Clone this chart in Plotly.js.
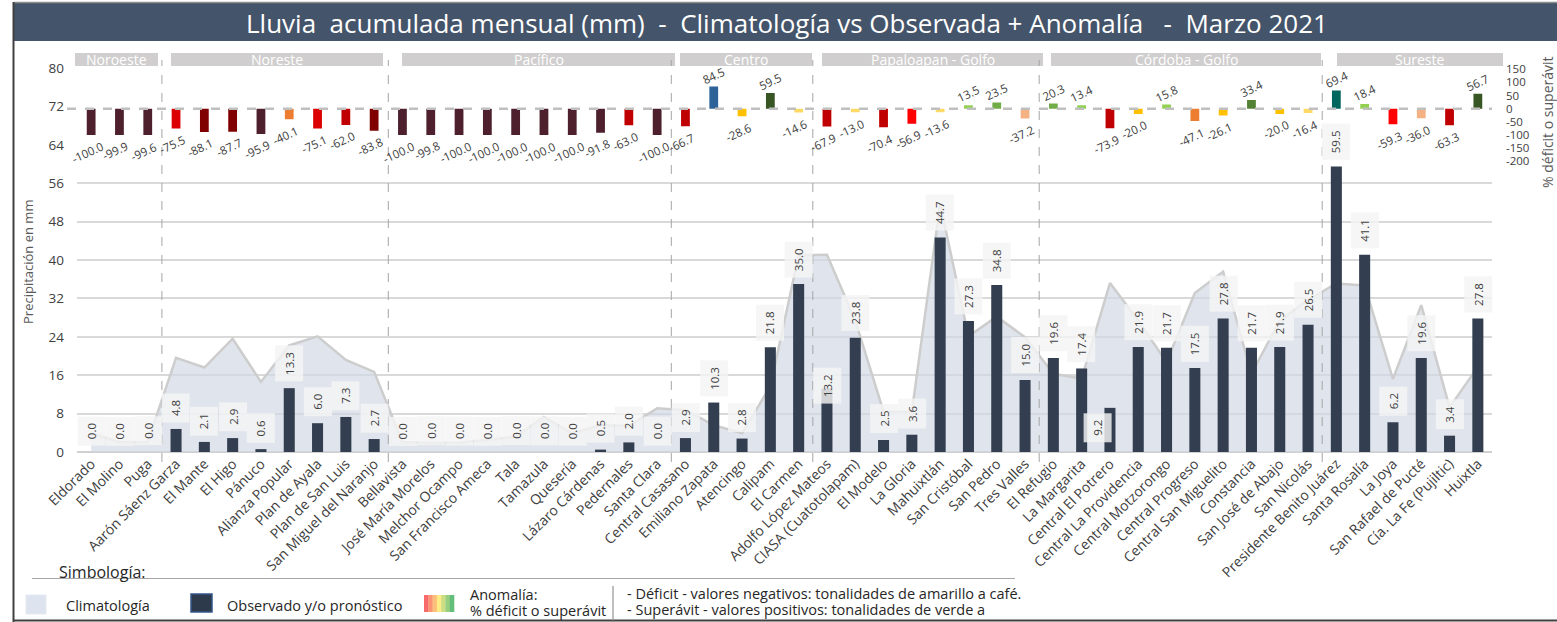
<!DOCTYPE html>
<html>
<head>
<meta charset="utf-8">
<script src="https://cdn.plot.ly/plotly-3.0.1.min.js"></script>
<style>
html,body{margin:0;padding:0;background:#fff;}
#chart{width:1557px;height:622px;}
</style>
</head>
<body>
<div id="chart"></div>
<script>
// ---------------- DATA ----------------
const regions = ['Noroeste','Noreste','Pacífico','Centro','Papaloapan - Golfo','Córdoba - Golfo','Sureste'];
const regionSizes = [3, 8, 10, 5, 8, 10, 6];

const stations = [
  'Eldorado','El Molino','Puga',
  'Aarón Sáenz Garza','El Mante','El Higo','Pánuco','Alianza Popular','Plan de Ayala','Plan de San Luis','San Miguel del Naranjo',
  'Bellavista','José María Morelos','Melchor Ocampo','San Francisco Ameca','Tala','Tamazula','Quesería','Lázaro Cárdenas','Pedernales','Santa Clara',
  'Central Casasano','Emiliano Zapata','Atencingo','Calipam','El Carmen',
  'Adolfo López Mateos','CIASA (Cuatotolapam)','El Modelo','La Gloria','Mahuixtlán','San Cristóbal','San Pedro','Tres Valles',
  'El Refugio','La Margarita','Central El Potrero','Central La Providencia','Central Motzorongo','Central Progreso','Central San Miguelito','Constancia','San José de Abajo','San Nicolás',
  'Presidente Benito Juárez','Santa Rosalía','La Joya','San Rafael de Pucté','Cía. La Fe (Pujiltic)','Huixtla'
];

const observed = [
  0.0, 0.0, 0.0,
  4.8, 2.1, 2.9, 0.6, 13.3, 6.0, 7.3, 2.7,
  0.0, 0.0, 0.0, 0.0, 0.0, 0.0, 0.0, 0.5, 2.0, 0.0,
  2.9, 10.3, 2.8, 21.8, 35.0,
  13.2, 23.8, 2.5, 3.6, 44.7, 27.3, 34.8, 15.0,
  19.6, 17.4, 9.2, 21.9, 21.7, 17.5, 27.8, 21.7, 21.9, 26.5,
  59.5, 41.1, 6.2, 19.6, 3.4, 27.8
];

const climatology = [
  3.9, 2.1, 2.1,
  19.6, 17.6, 23.6, 14.6, 22.2, 24.1, 19.2, 16.7,
  2.1, 1.9, 2.0, 2.5, 3.2, 7.3, 3.9, 5.6, 5.4, 9.1,
  8.7, 5.6, 3.9, 13.7, 41.0,
  41.1, 27.4, 8.4, 8.4, 51.7, 24.1, 28.2, 23.9,
  16.3, 15.3, 35.2, 27.4, 18.7, 33.1, 37.6, 16.3, 27.4, 31.7,
  35.1, 34.7, 15.2, 30.6, 9.3, 17.7
];

const anomaly = [
  -100.0, -99.9, -99.6,
  -75.5, -88.1, -87.7, -95.9, -40.1, -75.1, -62.0, -83.8,
  -100.0, -99.8, -100.0, -100.0, -100.0, -100.0, -100.0, -91.8, -63.0, -100.0,
  -66.7, 84.5, -28.6, 59.5, -14.6,
  -67.9, -13.0, -70.4, -56.9, -13.6, 13.5, 23.5, -37.2,
  20.3, 13.4, -73.9, -20.0, 15.8, -47.1, -26.1, 33.4, -20.0, -16.4,
  69.4, 18.4, -59.3, -36.0, -63.3, 56.7
];

const leftTicks = [0, 8, 16, 24, 32, 40, 48, 56, 64, 72, 80];
const rightTicks = [150, 100, 50, 0, -50, -100, -150, -200];

// ---------------- STYLE / LAYOUT ----------------
const L = 77, T = 68, W = 1415, H = 384;
const px = p => (p - L) / W;
const py = p => (T + H - p) / H;
const FONT = 'Open Sans, Noto Sans, sans-serif';
const TXT = '#404040';

function anomColor(v) {
  if (v <= -90) return '#4e1f2c';
  if (v <= -80) return '#800000';
  if (v <= -75) return '#dc0000';
  if (v <= -60) return '#c00000';
  if (v <= -50) return '#ff0000';
  if (v <= -40) return '#ed7d31';
  if (v <= -30) return '#f4b183';
  if (v <= -20) return '#ffc000';
  if (v < 0) return '#ffd966';
  if (v < 20) return '#92d050';
  if (v < 30) return '#70ad47';
  if (v < 50) return '#548235';
  if (v < 60) return '#375623';
  if (v < 80) return '#00665e';
  return '#2e6399';
}

// region header boxes in pixels (decoration)
const regionBoxPx = [[75,158],[171,383],[402,675],[680,812],[822,1043],[1051,1321],[1337,1503]];
// label offsets for a few crowded observed labels
const obsLabelShift = {
  'Central El Potrero': [-12, -35],
  'Adolfo López Mateos': [0, -15]
};

const traces = [
  {
    type: 'scatter', mode: 'lines', x: stations, y: climatology,
    fill: 'tozeroy', fillcolor: 'rgba(210,216,228,0.68)',
    line: {color: '#cdcdcd', width: 2.5}, yaxis: 'y', hoverinfo: 'skip', showlegend: false
  },
  {
    type: 'bar', x: stations, y: observed, width: 0.39,
    marker: {color: '#333f50'}, yaxis: 'y3', showlegend: false
  },
  {
    type: 'bar', x: stations, y: anomaly, width: 0.31,
    marker: {color: anomaly.map(anomColor)}, yaxis: 'y2', showlegend: false
  }
];

const shapes = [];
const annotations = [];

// title bar & frame
shapes.push({type:'rect', xref:'paper', yref:'paper', x0:px(14), x1:px(1557), y0:py(41), y1:py(3), fillcolor:'#44546a', line:{width:0}});
shapes.push({type:'line', xref:'paper', yref:'paper', x0:px(14), x1:px(1557), y0:py(2.5), y1:py(2.5), line:{color:'#8c8c8c', width:1.5}});
shapes.push({type:'line', xref:'paper', yref:'paper', x0:px(13.5), x1:px(13.5), y0:py(2), y1:py(622), line:{color:'#404040', width:2}});
shapes.push({type:'line', xref:'paper', yref:'paper', x0:px(13), x1:px(1557), y0:py(620.5), y1:py(620.5), line:{color:'#404040', width:2}});
annotations.push({xref:'paper', yref:'paper', x:px(787), y:py(23), text:'Lluvia\u00a0 acumulada mensual (mm)\u00a0 -\u00a0 Climatología vs Observada + Anomalía\u00a0\u00a0 -\u00a0 Marzo 2021',
  showarrow:false, xanchor:'center', yanchor:'middle', font:{family:FONT, size:26, color:'#ffffff'}});

// region headers and separators
let start = 0;
regions.forEach((r, k) => {
  const [a, b] = regionBoxPx[k];
  shapes.push({type:'rect', xref:'paper', yref:'paper', x0:px(a), x1:px(b), y0:py(66), y1:py(53), fillcolor:'#d0cece', line:{width:0}});
  annotations.push({xref:'paper', yref:'paper', x:px((a+b)/2), y:py(59.5), text:r, showarrow:false, xanchor:'center', yanchor:'middle',
    font:{family:FONT, size:14, color:'#ffffff'}});
  start += regionSizes[k];
  if (k < regions.length - 1) {
    shapes.push({type:'line', xref:'x', yref:'paper', x0:start - 0.5, x1:start - 0.5, y0:py(462), y1:py(60),
      line:{color:'#a6a6a6', width:1, dash:'dash'}});
  }
});

// anomaly zero line
shapes.push({type:'line', xref:'paper', yref:'y2', x0:px(67), x1:1, y0:0, y1:0, line:{color:'#bfbfbf', width:2.5, dash:'dash'}});

// axis titles
annotations.push({xref:'paper', yref:'paper', x:px(28), y:py(262), text:'Precipitación en mm', textangle:-90, showarrow:false,
  xanchor:'center', yanchor:'middle', font:{family:FONT, size:13, color:'#595959'}});
annotations.push({xref:'paper', yref:'paper', x:px(1547), y:py(122), text:'% déficit o superávit', textangle:-90, showarrow:false,
  xanchor:'center', yanchor:'middle', font:{family:FONT, size:14, color:'#595959'}});

// observed labels
stations.forEach((s, i) => {
  const sh = obsLabelShift[s] || [0, 6];
  annotations.push({x:s, y:observed[i], xref:'x', yref:'y', text:observed[i].toFixed(1), textangle:-90, showarrow:false,
    xanchor:'center', yanchor:'bottom', xshift:sh[0], yshift:sh[1], bgcolor:'rgba(244,244,244,0.82)', borderpad:6,
    font:{family:FONT, size:11.5, color:TXT}});
});

// anomaly labels
stations.forEach((s, i) => {
  const v = anomaly[i];
  annotations.push({x:s, y:v, xref:'x', yref:'y2', text:v.toFixed(1), textangle:-25, showarrow:false,
    xanchor:'center', yanchor: v < 0 ? 'top' : 'bottom', xshift: v < 0 ? -4 : 0, yshift: v < 0 ? -1 : -3,
    font:{family:FONT, size:11.5, color:TXT}});
});

// legend
const LEG = {family:FONT, size:14.5, color:'#262626'};
annotations.push({xref:'paper', yref:'paper', x:px(57), y:py(572), text:'Simbología:', showarrow:false, xanchor:'left', yanchor:'middle',
  font:{family:FONT, size:16, color:'#262626'}});
shapes.push({type:'line', xref:'paper', yref:'paper', x0:px(32), x1:px(1015), y0:py(578.5), y1:py(578.5), line:{color:'#a6a6a6', width:1}});
shapes.push({type:'rect', xref:'paper', yref:'paper', x0:px(26), x1:px(46), y0:py(614), y1:py(595), fillcolor:'#dde4f0', line:{color:'#e6e9ef', width:1}});
annotations.push({xref:'paper', yref:'paper', x:px(64), y:py(605), text:'Climatología', showarrow:false, xanchor:'left', yanchor:'middle', font:LEG});
shapes.push({type:'rect', xref:'paper', yref:'paper', x0:px(191), x1:px(212), y0:py(612), y1:py(594), fillcolor:'#2d3a4c', line:{color:'#34558a', width:1.5}});
annotations.push({xref:'paper', yref:'paper', x:px(225), y:py(605), text:'Observado y/o pronóstico', showarrow:false, xanchor:'left', yanchor:'middle', font:LEG});
const grad = ['#f8696b','#fa9473','#fcbf7b','#ffeb84','#cddd82','#98ce7f','#63be7b'];
grad.forEach((c, k) => {
  const a = 424 + k * 30 / grad.length, b = 424 + (k + 1) * 30 / grad.length;
  shapes.push({type:'rect', xref:'paper', yref:'paper', x0:px(a), x1:px(b + 0.3), y0:py(612), y1:py(595), fillcolor:c, line:{width:0}});
});
annotations.push({xref:'paper', yref:'paper', x:px(468), y:py(594), text:'Anomalía:', showarrow:false, xanchor:'left', yanchor:'middle', font:LEG});
annotations.push({xref:'paper', yref:'paper', x:px(468), y:py(610), text:'% déficit o superávit', showarrow:false, xanchor:'left', yanchor:'middle', font:LEG});
shapes.push({type:'line', xref:'paper', yref:'paper', x0:px(613), x1:px(613), y0:py(586), y1:py(622), line:{color:'#7f7f7f', width:1}});
annotations.push({xref:'paper', yref:'paper', x:px(625), y:py(593), text:'- Déficit - valores negativos: tonalidades de amarillo a café.', showarrow:false, xanchor:'left', yanchor:'middle', font:LEG});
annotations.push({xref:'paper', yref:'paper', x:px(625), y:py(609), text:'- Superávit - valores positivos: tonalidades de verde a', showarrow:false, xanchor:'left', yanchor:'middle', font:LEG});

const layout = {
  width: 1557, height: 622,
  margin: {l: L, r: 1557 - L - W, t: T, b: 622 - T - H, pad: 0},
  paper_bgcolor: '#ffffff', plot_bgcolor: '#ffffff',
  font: {family: FONT, color: TXT},
  showlegend: false,
  barmode: 'overlay',
  xaxis: {
    type: 'category', categoryorder: 'array', categoryarray: stations,
    range: [-0.5, stations.length - 0.5], tickangle: -45, showgrid: false, zeroline: false, showline: false,
    ticks: '', tickfont: {family: FONT, size: 14, color: TXT}, automargin: false, fixedrange: true
  },
  yaxis: {
    domain: [0, 1], range: [0, 80], tickmode: 'array', tickvals: leftTicks, ticktext: leftTicks.map(String),
    showgrid: true, gridcolor: '#d9d9d9', gridwidth: 2, zeroline: true, zerolinecolor: '#d0d0d0', zerolinewidth: 2.5,
    ticks: '', ticklabelstandoff: 12, tickfont: {family: FONT, size: 13.5, color: TXT}, automargin: false, fixedrange: true
  },
  yaxis3: {
    overlaying: 'y', anchor: 'x', range: [0, 80], visible: false, showgrid: false, zeroline: false, fixedrange: true
  },
  yaxis2: {
    domain: [py(161.3), py(69.3)], range: [-200, 150], anchor: 'x', side: 'right',
    tickmode: 'array', tickvals: rightTicks, ticktext: rightTicks.map(String),
    showgrid: false, zeroline: false, showline: false, ticks: '', ticklabelstandoff: 13,
    tickfont: {family: FONT, size: 11.5, color: TXT}, automargin: false, fixedrange: true
  },
  shapes: shapes,
  annotations: annotations
};

Plotly.newPlot('chart', traces, layout, {displayModeBar: false, staticPlot: true});
</script>
</body>
</html>
